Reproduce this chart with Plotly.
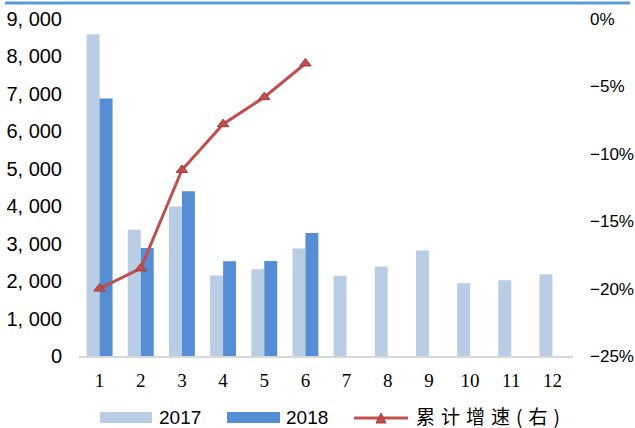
import plotly.graph_objects as go

months = list(range(1, 13))
month_labels = [str(m) for m in months]
sales_2017 = [8590, 3370, 3990, 2150, 2320, 2870, 2140, 2390, 2820, 1945, 2025, 2185]
months_2018 = [1, 2, 3, 4, 5, 6]
sales_2018 = [6880, 2885, 4400, 2530, 2540, 3285]
growth = [-0.200, -0.185, -0.112, -0.078, -0.058, -0.033]

left_ticks = [0, 1000, 2000, 3000, 4000, 5000, 6000, 7000, 8000, 9000]
left_text = ["0", "1, 000", "2, 000", "3, 000", "4, 000", "5, 000", "6, 000", "7, 000", "8, 000", "9, 000"]
right_ticks = [-0.25, -0.20, -0.15, -0.10, -0.05, 0.0]
right_text = ["\u221225%", "\u221220%", "\u221215%", "\u221210%", "\u22125%", "0%"]

c2017 = "#B9CDE5"
c2018 = "#558ED5"
cline = "#C0504D"

fig = go.Figure()
fig.add_trace(go.Bar(x=months, y=sales_2017, name="2017", marker_color=c2017,
                     marker_line_width=0, showlegend=False))
fig.add_trace(go.Bar(x=months_2018, y=sales_2018, name="2018", marker_color=c2018,
                     marker_line_width=0, showlegend=False))
fig.add_trace(go.Scatter(x=months_2018, y=growth, name="累计增速(右)", yaxis="y2",
                         mode="lines+markers",
                         line=dict(color=cline, width=3),
                         marker=dict(symbol="triangle-up", size=10, color=cline,
                                     line=dict(color="#A33B38", width=1)),
                         showlegend=False))

W, H = 635, 428
ml, mr, mt, mb = 79, 62, 19, 72
pw = W - ml - mr
ph = H - mt - mb

def px_x(x):
    return (x - ml) / pw

def px_y(y):
    return (H - mb - y) / ph

shapes = [
    dict(type="line", xref="paper", yref="paper", x0=px_x(5), x1=px_x(630),
         y0=px_y(3), y1=px_y(3), line=dict(color="#5B9BD5", width=3)),
    dict(type="rect", xref="paper", yref="paper", x0=px_x(100), x1=px_x(152),
         y0=px_y(423), y1=px_y(412), fillcolor=c2017, line=dict(width=0)),
    dict(type="rect", xref="paper", yref="paper", x0=px_x(227), x1=px_x(280),
         y0=px_y(423), y1=px_y(412), fillcolor=c2018, line=dict(width=0)),
    dict(type="line", xref="paper", yref="paper", x0=px_x(354), x1=px_x(408),
         y0=px_y(418), y1=px_y(418), line=dict(color=cline, width=3)),
    dict(type="path", xref="paper", yref="paper",
         path="M {} {} L {} {} L {} {} Z".format(px_x(376), px_y(423), px_x(386), px_y(423), px_x(381), px_y(413)),
         fillcolor=cline, line=dict(color="#A33B38", width=1)),
]

annotations = [
    dict(text="2017", xref="paper", yref="paper", x=px_x(157), y=px_y(418),
         xanchor="left", yanchor="middle", showarrow=False,
         font=dict(family="Liberation Sans, Arial", size=19, color="#000")),
    dict(text="2018", xref="paper", yref="paper", x=px_x(284), y=px_y(418),
         xanchor="left", yanchor="middle", showarrow=False,
         font=dict(family="Liberation Sans, Arial", size=19, color="#000")),
    dict(text='<span style="letter-spacing:6px">累计增速(右)</span>', xref="paper", yref="paper",
         x=px_x(414), y=px_y(415),
         xanchor="left", yanchor="middle", showarrow=False,
         font=dict(family="Noto Sans CJK SC", size=19, color="#000")),
]

fig.update_layout(
    width=W, height=H,
    margin=dict(l=ml, r=mr, t=mt, b=mb, pad=0),
    paper_bgcolor="white", plot_bgcolor="white",
    barmode="group", bargap=0.37, bargroupgap=0,
    showlegend=False,
    xaxis=dict(range=[0.5, 12.5], tickvals=months, ticktext=month_labels,
               showgrid=False, zeroline=False, showline=True, linecolor="#D9D9D9",
               linewidth=1.5, ticks="", ticklabelstandoff=6, automargin=False,
               tickfont=dict(family="Liberation Serif, Times New Roman", size=19, color="#000")),
    yaxis=dict(range=[0, 9000], tickvals=left_ticks, ticktext=left_text,
               showgrid=False, zeroline=False, showline=False, ticks="",
               ticklabelstandoff=16, automargin=False,
               tickfont=dict(family="Liberation Sans, Arial", size=20, color="#000")),
    yaxis2=dict(range=[-0.25, 0], overlaying="y", side="right", tickvals=right_ticks,
                ticktext=right_text, showgrid=False, zeroline=False, showline=False,
                ticks="", ticklabelstandoff=16, automargin=False,
                tickfont=dict(family="Liberation Sans, Arial", size=17, color="#000")),
    shapes=shapes,
    annotations=annotations,
)

fig.write_html("out.html", config={"displayModeBar": False},
               post_script="document.body.style.margin='0';document.body.style.overflow='hidden';")
